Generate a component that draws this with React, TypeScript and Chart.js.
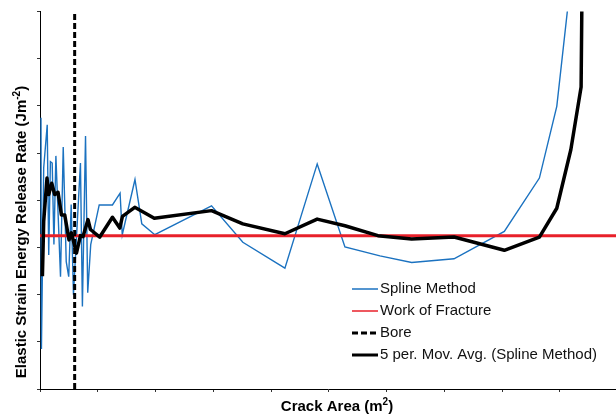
import { useEffect, useRef } from 'react';
import { Chart, registerables } from 'chart.js';

Chart.register(...registerables);

// Crack area (x) and elastic strain energy release rate (y), in axis units
const splineX = [0.017, 0.025, 0.064, 0.125, 0.151, 0.180, 0.211, 0.241, 0.275, 0.355, 0.402, 0.454, 0.497, 0.540, 0.579, 0.700, 0.734, 0.788, 0.826, 0.878, 1.025, 1.254, 1.386, 1.424, 1.644, 1.762, 1.987, 2.969, 3.511, 4.239, 4.798, 5.278, 5.884, 6.433, 7.166, 8.037, 8.644, 8.945, 9.30];
const splineY = [5.75, 0.85, 4.69, 5.60, 2.84, 4.82, 4.79, 3.06, 4.94, 2.38, 5.13, 2.70, 2.38, 3.91, 2.00, 4.79, 1.75, 5.36, 2.04, 3.06, 3.90, 3.90, 4.15, 3.27, 4.44, 3.50, 3.27, 3.88, 3.11, 2.56, 4.77, 3.01, 2.82, 2.68, 2.76, 3.34, 4.47, 5.99, 9.9];

const maX = [0.042, 0.064, 0.121, 0.151, 0.203, 0.255, 0.312, 0.371, 0.428, 0.502, 0.544, 0.631, 0.700, 0.745, 0.831, 0.873, 1.034, 1.254, 1.381, 1.427, 1.640, 1.978, 2.969, 3.511, 4.239, 4.798, 5.278, 5.850, 6.433, 7.166, 8.037, 8.644, 8.945, 9.188, 9.366, 9.39];
const maY = [2.39, 3.55, 4.47, 4.12, 4.36, 4.12, 4.17, 3.69, 3.69, 3.16, 3.31, 2.88, 3.25, 3.23, 3.59, 3.38, 3.22, 3.64, 3.41, 3.66, 3.85, 3.62, 3.78, 3.50, 3.29, 3.60, 3.46, 3.25, 3.18, 3.22, 2.94, 3.22, 3.83, 5.07, 6.40, 9.6];

const workOfFracture = 3.25;
const boreArea = 0.6;

const xRange = [0, 9.97];
const yRange = [0, 8];

const seriesLabels = ['Spline Method', 'Work of Fracture', 'Bore', '5 per. Mov. Avg. (Spline Method)'];
const xTitleParts = [{ t: 'Crack Area (m' }, { t: '2', sup: true }, { t: ')' }];
const yTitleParts = [{ t: 'Elastic Strain Energy Release Rate (Jm' }, { t: '-2', sup: true }, { t: ')' }];

const FONT = '"Liberation Sans", Arial, Helvetica, sans-serif';

type Part = { t: string; sup?: boolean };

function drawRich(ctx: CanvasRenderingContext2D, parts: Part[], cx: number, cy: number) {
  const mainFont = `bold 15px ${FONT}`;
  const supFont = `bold 10px ${FONT}`;
  let total = 0;
  const widths = parts.map((p) => {
    ctx.font = p.sup ? supFont : mainFont;
    const w = ctx.measureText(p.t).width;
    total += w;
    return w;
  });
  let x = cx - total / 2;
  ctx.textBaseline = 'middle';
  ctx.textAlign = 'left';
  parts.forEach((p, i) => {
    ctx.font = p.sup ? supFont : mainFont;
    ctx.fillText(p.t, x, p.sup ? cy - 4.5 : cy);
    x += widths[i];
  });
}

const overlayPlugin = {
  id: 'overlay',
  afterDraw(chart: any) {
    const ctx: CanvasRenderingContext2D = chart.ctx;
    ctx.save();
    ctx.fillStyle = '#000';
    // axis titles
    drawRich(ctx, xTitleParts, 337, 407);
    ctx.save();
    ctx.translate(22, 232);
    ctx.rotate(-Math.PI / 2);
    drawRich(ctx, yTitleParts, 0, 0);
    ctx.restore();

    // legend
    const x0 = 352;
    const x1 = 378;
    const rowY = [289, 311, 333, 355];
    chart.data.datasets.forEach((ds: any, i: number) => {
      const y = rowY[i];
      ctx.save();
      ctx.beginPath();
      ctx.strokeStyle = ds.borderColor;
      ctx.lineWidth = i === 0 || i === 1 ? 1.5 : 3;
      ctx.setLineDash(ds.borderDash || []);
      ctx.moveTo(x0, y);
      ctx.lineTo(x1, y);
      ctx.stroke();
      ctx.restore();
      ctx.font = `15px ${FONT}`;
      ctx.fillStyle = '#111';
      ctx.textAlign = 'left';
      ctx.textBaseline = 'middle';
      ctx.fillText(seriesLabels[i], 380, y);
    });
    ctx.restore();
  },
};

export default function App() {
  const ref = useRef<HTMLCanvasElement>(null);

  useEffect(() => {
    document.body.style.margin = '0';
    if (!ref.current) return;
    const chart = new Chart(ref.current, {
      type: 'line',
      data: {
        datasets: [
          {
            label: seriesLabels[0],
            data: splineX.map((x, i) => ({ x, y: splineY[i] })),
            borderColor: '#1b72c0',
            borderWidth: 1.4,
            pointRadius: 0,
            tension: 0,
            clip: 0,
            order: 4,
          },
          {
            label: seriesLabels[1],
            data: [
              { x: xRange[0], y: workOfFracture },
              { x: xRange[1], y: workOfFracture },
            ],
            borderColor: '#e8202a',
            borderWidth: 3,
            pointRadius: 0,
            clip: 0,
            order: 3,
          },
          {
            label: seriesLabels[2],
            data: [
              { x: boreArea, y: yRange[0] },
              { x: boreArea, y: yRange[1] },
            ],
            borderColor: '#000',
            borderWidth: 3,
            borderDash: [6, 3],
            pointRadius: 0,
            clip: 0,
            order: 2,
          },
          {
            label: seriesLabels[3],
            data: maX.map((x, i) => ({ x, y: maY[i] })),
            borderColor: '#000',
            borderWidth: 3.5,
            borderJoinStyle: 'round',
            pointRadius: 0,
            tension: 0,
            clip: 0,
            order: 1,
          },
        ] as any,
      },
      options: {
        animation: false,
        responsive: false,
        events: [],
        layout: { padding: { left: 37, right: 0, top: 11.5, bottom: 27 } },
        plugins: { legend: { display: false }, tooltip: { enabled: false } },
        scales: {
          x: {
            type: 'linear',
            min: xRange[0],
            max: xRange[1],
            ticks: { display: false, stepSize: 1 },
            afterBuildTicks: (s: any) => {
              s.ticks = s.ticks.filter((t: any) => Math.abs(t.value - Math.round(t.value)) < 1e-9);
            },
            grid: { display: true, drawOnChartArea: false, drawTicks: true, tickLength: 3, color: '#333' },
            border: { display: true, color: '#000', width: 1 },
          },
          y: {
            type: 'linear',
            min: yRange[0],
            max: yRange[1],
            ticks: { display: false, stepSize: 1 },
            grid: { display: true, drawOnChartArea: false, drawTicks: true, tickLength: 3, color: '#333' },
            border: { display: true, color: '#000', width: 1 },
          },
        },
      } as any,
      plugins: [overlayPlugin],
    });
    return () => chart.destroy();
  }, []);

  return (
    <div style={{ width: 616, height: 419 }}>
      <canvas ref={ref} width={616} height={419} style={{ display: 'block' }} />
    </div>
  );
}
